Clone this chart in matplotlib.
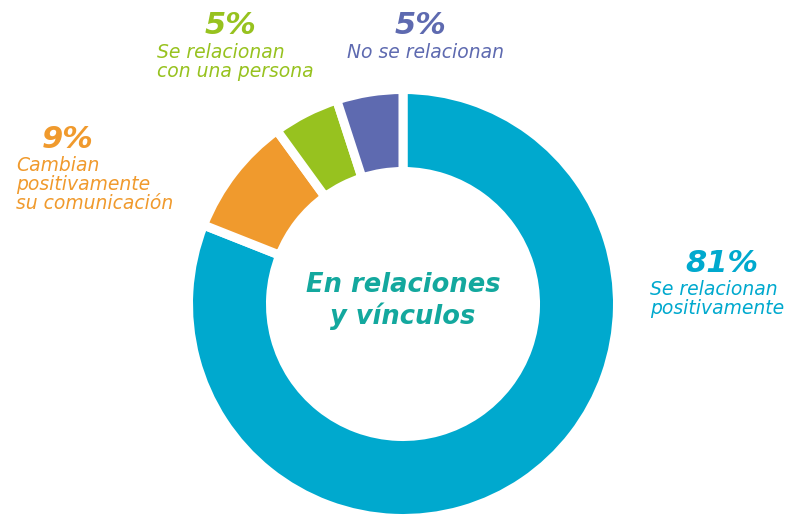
import matplotlib.pyplot as plt

# ----------- data -----------
shares = [81, 9, 5, 5]
pct_labels = ['81%', '9%', '5%', '5%']
descriptions = ['Se relacionan\npositivamente',
                'Cambian\npositivamente\nsu comunicación',
                'Se relacionan\ncon una persona',
                'No se relacionan']
colors = ['#00A9CE', '#F09A2D', '#97C21F', '#5E6AB0']
center_title = 'En relaciones\ny vínculos'

W, H = 797, 521
fig = plt.figure(figsize=(W / 100, H / 100), dpi=100, facecolor='w')
ax = fig.add_axes([0, 0, 1, 1])

gap = 6.5  # pt, white separators
cx, cy = 403, H - 304
ax.pie(shares, colors=colors, startangle=90, counterclock=False,
       center=(cx, cy), radius=214.5, frame=True,
       wedgeprops=dict(width=82, edgecolor='white', linewidth=gap))
ax.set_xlim(0, W)
ax.set_ylim(0, H)
ax.set_aspect('equal')
ax.axis('off')

fam = ['DejaVu Sans']
big = dict(fontsize=22, fontweight='heavy', style='italic', family=fam)
small = dict(fontsize=13.5, fontweight='light', style='italic', family=fam,
             linespacing=1.0)

# (pct x, pct y, label x, label top y) in pixel coords from top
spots = [(722, 263, 650, 280),
         (68, 139, 16, 156),
         (230, 26, 157, 43),
         (420, 26, 347, 43)]
for (px, py, lx, ly), pct, txt, c in zip(spots, pct_labels, descriptions, colors):
    ax.text(px, H - py, pct, color=c, ha='center', va='center', **big)
    ax.text(lx, H - ly, txt, color=c, ha='left', va='top', **small)

ax.text(cx, H - 301, center_title, color='#13A89E', ha='center', va='center',
        fontsize=18.5, fontweight='heavy', style='italic', family=fam,
        linespacing=1.2)

fig.savefig('out.png', dpi=100, facecolor='w')
